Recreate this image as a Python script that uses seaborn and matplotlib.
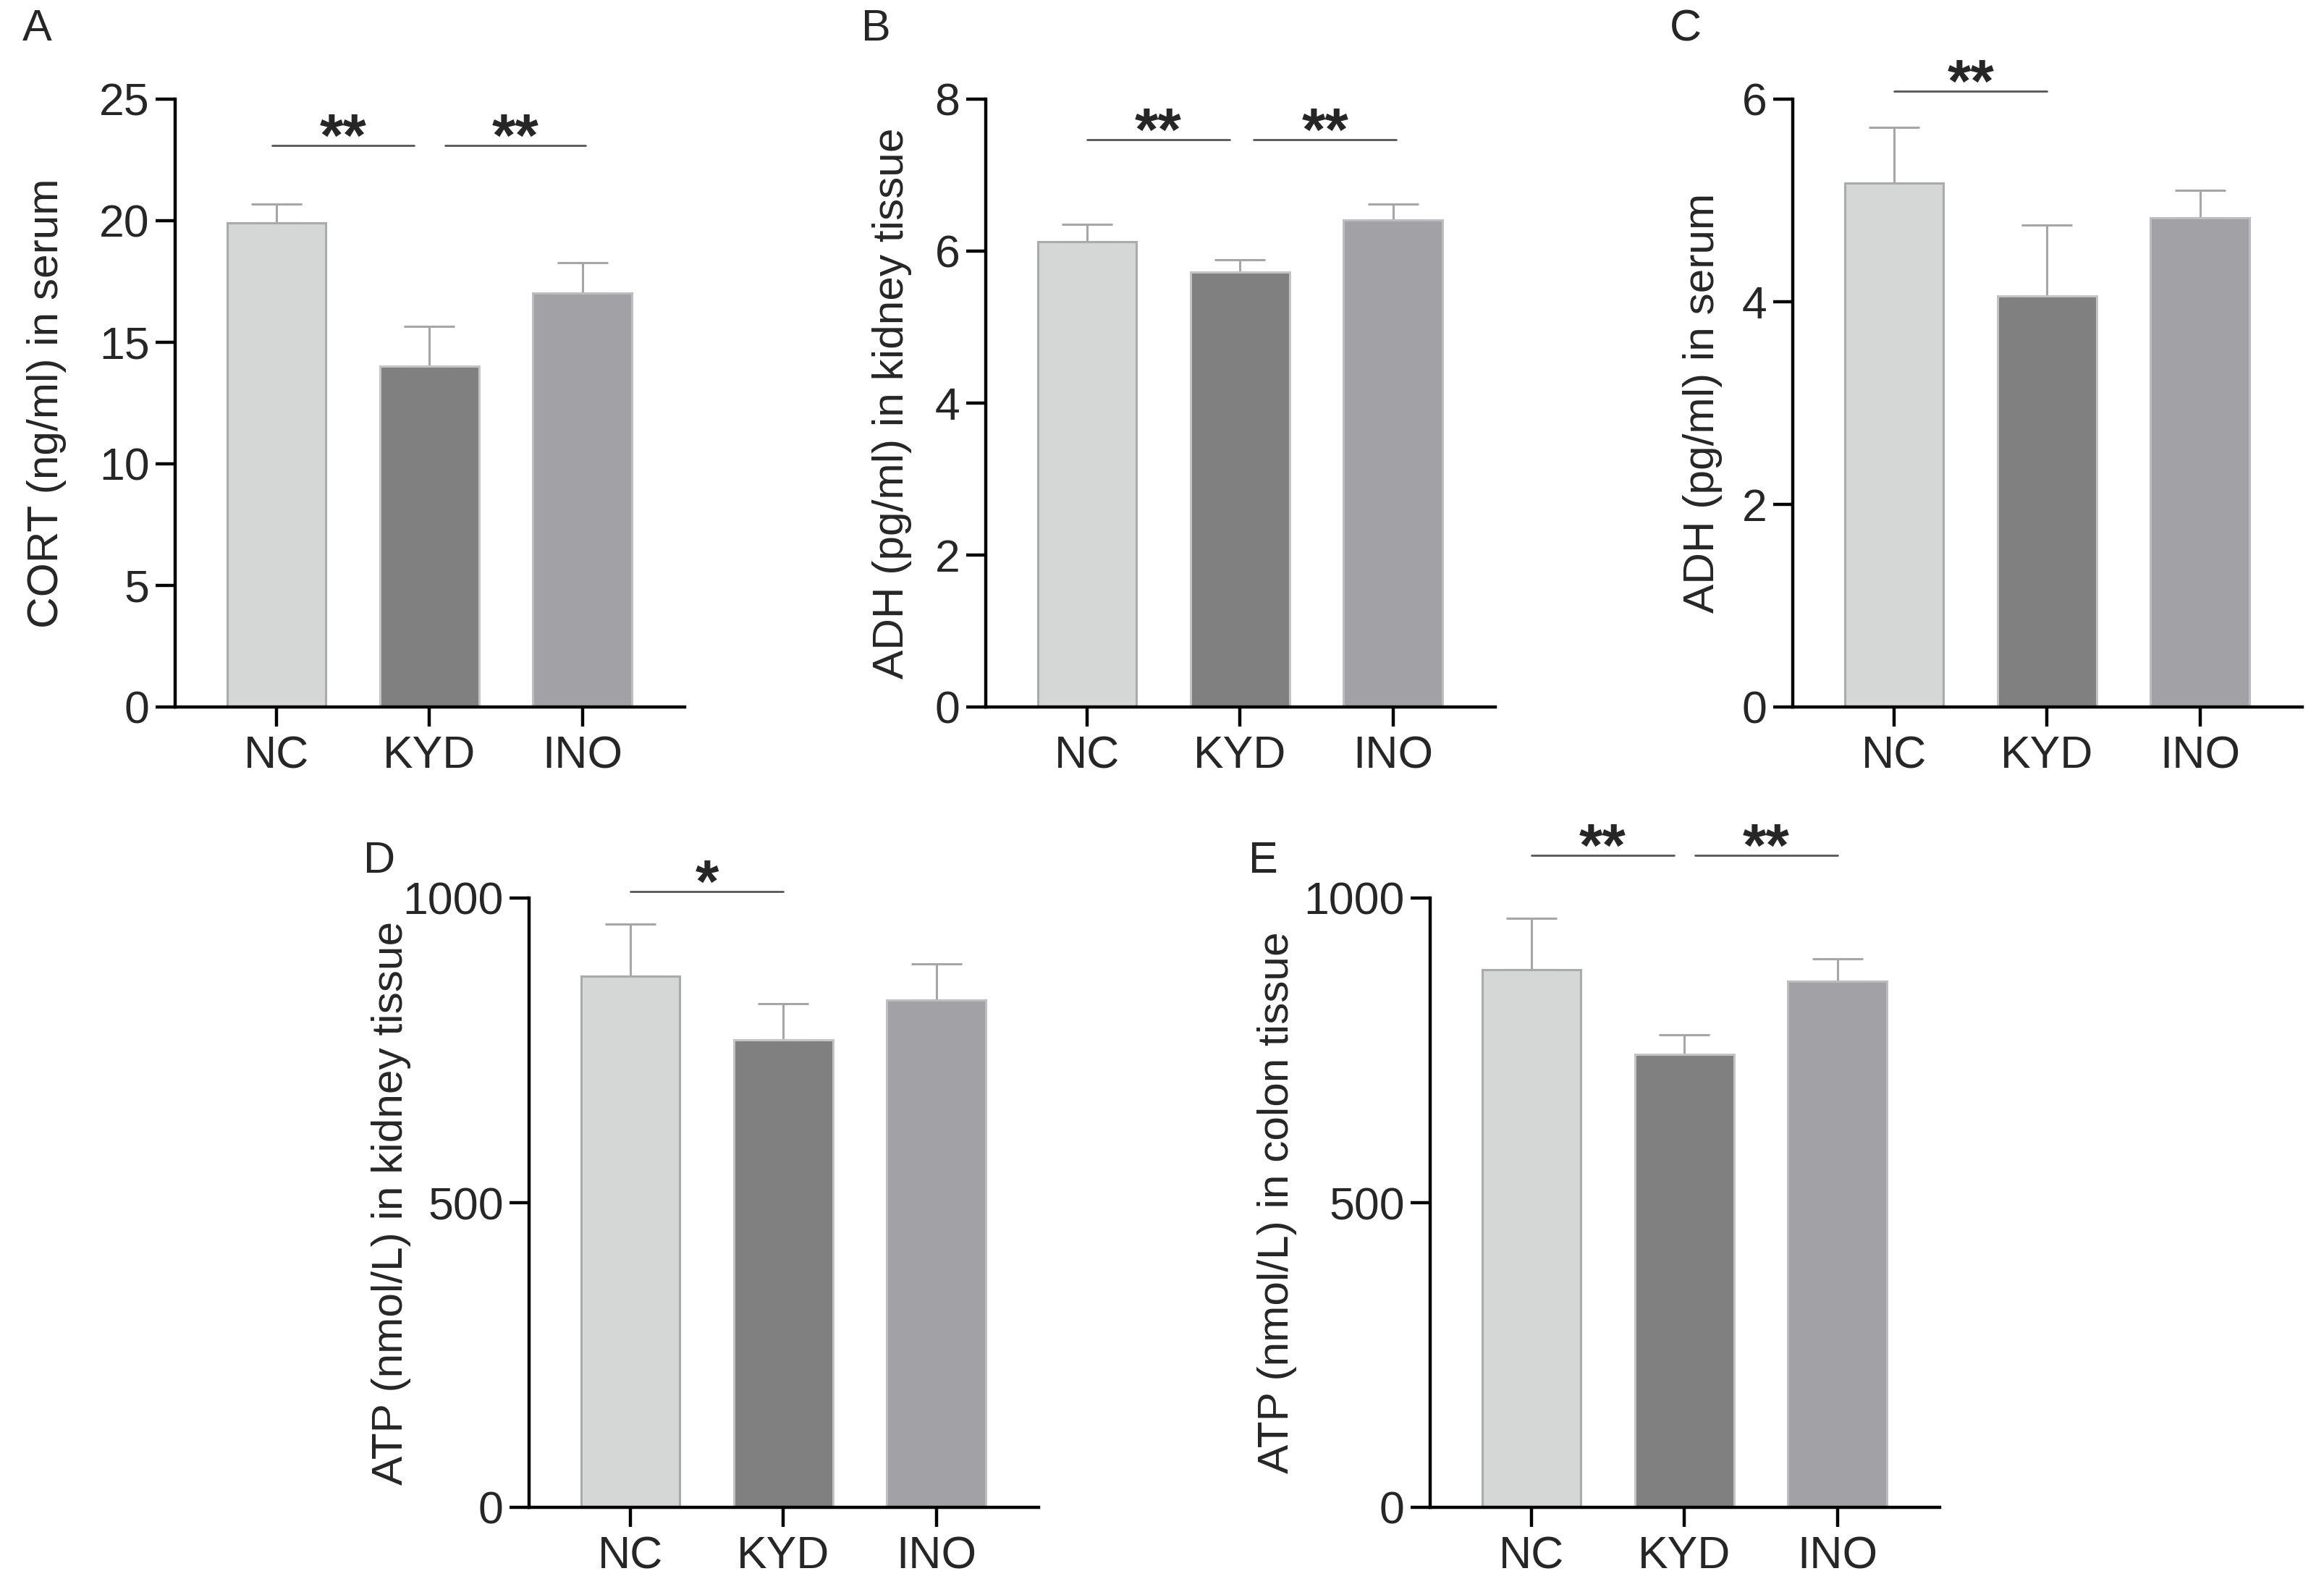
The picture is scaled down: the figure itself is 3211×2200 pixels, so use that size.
import numpy as np
import pandas as pd
import matplotlib
matplotlib.use('Agg')
import matplotlib.pyplot as plt
import seaborn as sns

sns.set_style('ticks')
plt.rcParams['font.family'] = ['Liberation Sans', 'DejaVu Sans']

# ---- data (mean + upper SEM) ----
groups = ['NC', 'KYD', 'INO']

cort_serum = [19.9, 14.02, 17.01]
cort_serum_err = [0.78, 1.62, 1.25]

adh_kidney = [6.12, 5.72, 6.41]
adh_kidney_err = [0.23, 0.17, 0.21]

adh_serum = [5.17, 4.06, 4.83]
adh_serum_err = [0.55, 0.70, 0.27]

atp_kidney = [872, 767, 832]
atp_kidney_err = [85, 60, 60]

atp_colon = [882, 744, 863]
atp_colon_err = [85, 32, 37]

fill = ['#d4d7d6', '#808080', '#a2a1a5']
edge = ['#a9abaa', '#c4c4c4', '#bdbdbf']
err_col = '#a6a6a6'

W, H = 3211, 2200
fig = plt.figure(figsize=(W / 100, H / 100), dpi=100)


def px_axes(left, top_px, bottom_px, width=704):
    return fig.add_axes([left / W, 1 - bottom_px / H, width / W, (bottom_px - top_px) / H])


panels = [
    dict(letter='A', ax=px_axes(242, 137, 977), vals=cort_serum, errs=cort_serum_err,
         ylabel='CORT (ng/ml) in serum', yticks=[0, 5, 10, 15, 20, 25], top=25,
         comps=[(-0.03, 0.9, '**'), (1.1, 2.02, '**')], liney=23.1, labx=-0.213, lpos=(51, 41)),
    dict(letter='B', ax=px_axes(1362, 137, 977), vals=adh_kidney, errs=adh_kidney_err,
         ylabel='ADH (pg/ml) in kidney tissue', yticks=[0, 2, 4, 6, 8], top=8,
         comps=[(0.0, 0.93, '**'), (1.09, 2.02, '**')], liney=7.47, labx=-0.145, lpos=(1210, 41)),
    dict(letter='C', ax=px_axes(2477, 137, 977), vals=adh_serum, errs=adh_serum_err,
         ylabel='ADH (pg/ml) in serum', yticks=[0, 2, 4, 6], top=6,
         comps=[(0.0, 1.0, '**')], liney=6.08, labx=-0.138, lpos=(2329, 41)),
    dict(letter='D', ax=px_axes(731, 1241, 2083), vals=atp_kidney, errs=atp_kidney_err,
         ylabel='ATP (nmol/L) in kidney tissue', yticks=[0, 500, 1000], top=1000,
         comps=[(0.0, 1.0, '*')], liney=1011, labx=-0.232, lpos=(524, 1191)),
    dict(letter='E', ax=px_axes(1976, 1241, 2083), vals=atp_colon, errs=atp_colon_err,
         ylabel='ATP (nmol/L) in colon tissue', yticks=[0, 500, 1000], top=1000,
         comps=[(0.0, 0.93, '**'), (1.07, 2.0, '**')], liney=1070, labx=-0.261, lpos=(1745, 1191)),
]

for p in panels:
    ax = p['ax']
    df = pd.DataFrame({'group': groups, 'value': p['vals']})
    sns.barplot(data=df, x='group', y='value', hue='group', palette=fill, order=groups,
                width=0.645, errorbar=None, legend=False, ax=ax, zorder=2)
    for patch, ec in zip(ax.patches, edge):
        patch.set_edgecolor(ec)
        patch.set_linewidth(2.2)
    ax.errorbar(np.arange(3), p['vals'], yerr=[np.zeros(3), p['errs']], fmt='none',
                ecolor=err_col, elinewidth=2.2, capsize=25, capthick=2.2, zorder=1)
    ax.set_xlim(-0.665, 2.67)
    ax.set_ylim(0, p['top'])
    ax.set_yticks(p['yticks'])
    ax.set_xlabel('')
    ax.set_ylabel(p['ylabel'], fontsize=43.5)
    ax.yaxis.set_label_coords(p['labx'], 0.5)
    sns.despine(ax=ax)
    for s in ['left', 'bottom']:
        ax.spines[s].set_linewidth(3.2)
        ax.spines[s].set_color('black')
    ax.tick_params(axis='both', width=3.2, length=19.5, labelsize=45, pad=6, color='black')
    ax.tick_params(axis='x', pad=8)
    for x0, x1, lab in p['comps']:
        ax.plot([x0, x1], [p['liney']] * 2, color='#555555', lw=2, clip_on=False)
        ax.annotate(lab, xy=((x0 + x1) / 2, p['liney']), xytext=(0, -11),
                    textcoords='offset points', ha='center', va='baseline',
                    fontsize=60, fontweight='bold', annotation_clip=False)
    fig.text(p['lpos'][0] / W, 1 - p['lpos'][1] / H, p['letter'], fontsize=44,
             ha='center', va='center')

fig.savefig('out.png', dpi=100)
